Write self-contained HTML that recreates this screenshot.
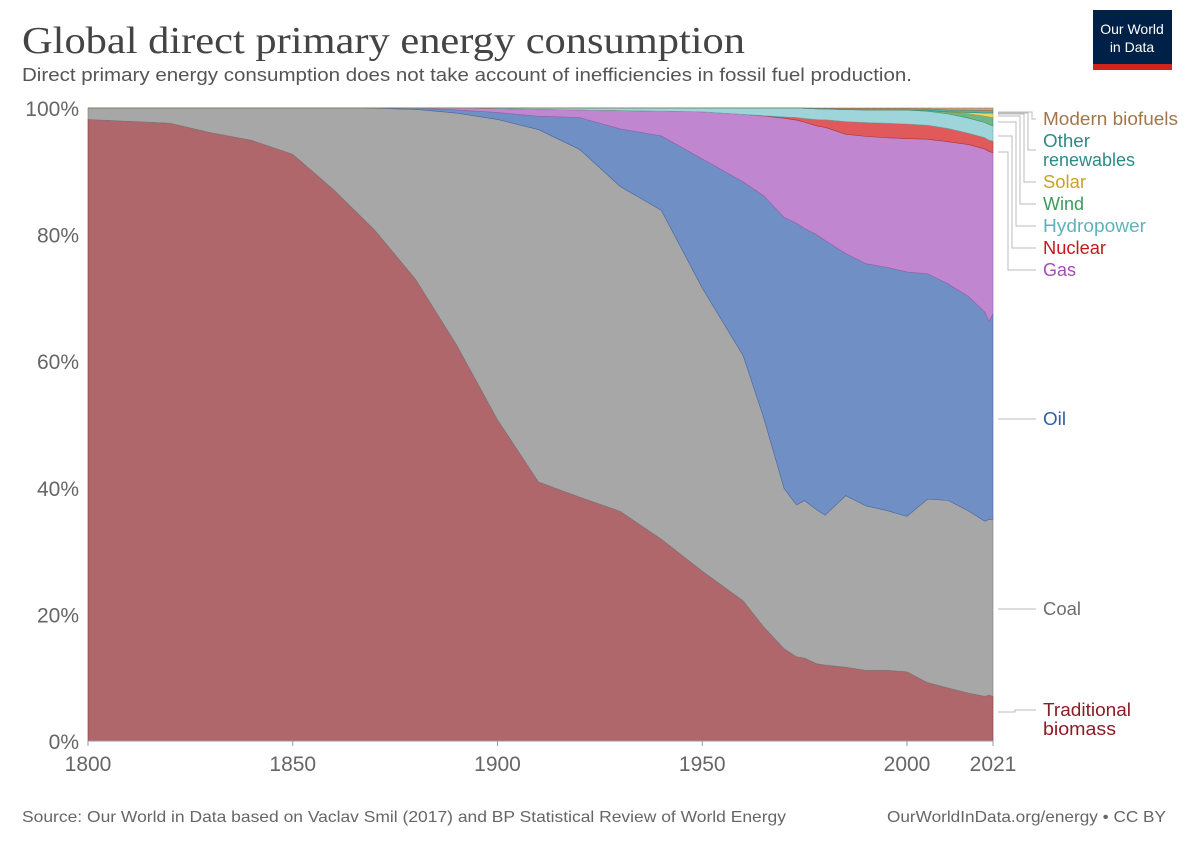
<!DOCTYPE html>
<html><head><meta charset="utf-8">
<style>
body{margin:0;background:#fff;width:1200px;height:847px;overflow:hidden;font-family:"Liberation Sans",sans-serif;}
</style></head>
<body>
<svg id="chart" width="1200" height="847" xmlns="http://www.w3.org/2000/svg">
<text x="22" y="53" font-family="'Liberation Serif',serif" font-size="38" fill="#444" textLength="723" lengthAdjust="spacingAndGlyphs">Global direct primary energy consumption</text>
<text x="22" y="81" font-size="18" fill="#555" textLength="890" lengthAdjust="spacingAndGlyphs">Direct primary energy consumption does not take account of inefficiencies in fossil fuel production.</text>
<g>
<rect x="1093" y="10" width="79" height="60" fill="#002147"/>
<rect x="1093" y="64" width="79" height="6" fill="#ce261e"/>
<text x="1132" y="34" text-anchor="middle" font-size="14" fill="#fff">Our World</text>
<text x="1132" y="52" text-anchor="middle" font-size="14" fill="#fff">in Data</text>
</g>
<g id="grid"></g>
<g id="areas"></g>
<g id="axes"></g>
<g id="labels"></g>
<text x="22" y="822" font-size="16" fill="#666" textLength="764" lengthAdjust="spacingAndGlyphs">Source: Our World in Data based on Vaclav Smil (2017) and BP Statistical Review of World Energy</text>
<text x="887" y="822" font-size="16" fill="#666" textLength="279" lengthAdjust="spacingAndGlyphs">OurWorldInData.org/energy • CC BY</text>
</svg>
<script>
const years=[1800,1820,1830,1840,1850,1860,1870,1880,1890,1900,1910,1920,1930,1940,1950,1960,1965,1970,1973,1975,1978,1980,1985,1990,1995,2000,2005,2010,2015,2019,2020,2021];
const biomass=[98.1,97.5,96,94.8,92.6,87,80.6,72.8,62.6,50.7,40.9,38.5,36.2,31.8,26.7,22,17.9,14.5,13.3,13.1,12.2,12,11.7,11.2,11.2,10.9,9.2,8.4,7.6,7.1,7.3,7.0];
const coal=[1.8,2.4,3.9,5.1,7.3,12.9,19.2,26.8,36.6,47.4,55.6,54.9,51.2,51.8,44.5,38.5,32.8,25.2,24,24.9,24.3,23.7,27.2,26.1,25.3,24.5,28.9,29.7,28.9,27.8,27.9,27.8];
const oil=[0,0,0,0,0,0,0.05,0.2,0.5,1.1,2.1,5.0,9.1,11.7,20.3,27.3,34.8,42.6,44.5,43,43.5,43.4,38.4,38.4,38.5,38.5,35.5,34.3,34,33.2,31.5,32.2];
const gas=[0,0,0,0,0,0,0,0,0.3,0.6,1.1,1.2,2.9,3.9,7.4,10.6,12.5,15.6,16.3,16.8,17.2,17.9,18.9,20.2,20.5,21,21.2,22.5,24.1,25.9,27,25.3];
const nuclear=[0,0,0,0,0,0,0,0,0,0,0,0,0,0,0,0,0.05,0.2,0.4,0.6,1.0,1.2,2.0,2.2,2.3,2.3,2.2,2.1,1.8,1.8,1.8,1.8];
const hydro=[0,0,0,0,0,0,0,0,0,0.1,0.2,0.3,0.4,0.5,0.6,1.0,1.2,1.4,1.5,1.6,1.7,1.7,1.9,2.0,2.1,2.2,2.2,2.3,2.4,2.4,2.5,2.4];
const wind=[0,0,0,0,0,0,0,0,0,0,0,0,0,0,0,0,0,0,0,0,0,0,0,0,0.01,0.02,0.1,0.3,0.7,1.0,1.2,1.3];
const solar=[0,0,0,0,0,0,0,0,0,0,0,0,0,0,0,0,0,0,0,0,0,0,0,0,0,0,0.01,0.03,0.2,0.5,0.6,0.7];
const otherRen=[0,0,0,0,0,0,0,0,0,0,0,0,0,0,0,0,0,0,0,0.05,0.08,0.1,0.15,0.2,0.2,0.2,0.25,0.3,0.35,0.4,0.4,0.4];
const biofuels=[0,0,0,0,0,0,0,0,0,0,0,0,0,0,0,0,0,0,0,0,0.05,0.05,0.1,0.1,0.1,0.1,0.15,0.3,0.35,0.4,0.4,0.4];
const yTicks=[0,20,40,60,80,100];
const xTicks=[1800,1850,1900,1950,2000,2021];
const seriesNames=["Traditional biomass","Coal","Oil","Gas","Nuclear","Hydropower","Wind","Solar","Other renewables","Modern biofuels"];

const NS="http://www.w3.org/2000/svg";
const X0=88,X1=993,Y0=741,Y1=108;
const xS=y=>X0+(y-1800)/(2021-1800)*(X1-X0);
const yS=v=>Y0-v/100*(Y0-Y1);
function mk(t,a,p){const e=document.createElementNS(NS,t);for(const k in a)e.setAttribute(k,a[k]);p.appendChild(e);return e;}
const grid=document.getElementById('grid'),axes=document.getElementById('axes'),areas=document.getElementById('areas'),labels=document.getElementById('labels');
yTicks.forEach(t=>{
 const l=mk('line',{x1:X0,x2:X1,y1:yS(t),y2:yS(t),stroke:'#ddd','stroke-dasharray':'4,3'},grid);
 
 
 const tx=mk('text',{x:79,y:yS(t)+8,'text-anchor':'end','font-size':21,fill:'#666'},axes);
 tx.textContent=t+'%';
 
 
});
xTicks.forEach(t=>{
 const tx=mk('text',{x:xS(t),y:771,'text-anchor':'middle','font-size':21,fill:'#666'},axes);
 tx.textContent=t;
 
 
 mk('line',{x1:xS(t),x2:xS(t),y1:Y0,y2:Y0+5,stroke:'#999'},axes);
});
const series=[biomass,coal,oil,gas,nuclear,hydro,wind,solar,otherRen,biofuels];
const fills=['#b0676c','#a7a7a7','#6f8fc5','#c186d0','#e0595b','#9dd5da','#6fb687','#f0d55e','#52b3ad','#c8a27a'];
const strokes=['#7a3a40','#7c7c7c','#4a68a0','#9a60aa','#b03538','#70a9ae','#4a9060','#c0a030','#2f8a84','#9c7650'];
const totals=years.map((_,i)=>series.reduce((s,a)=>s+a[i],0));
let base=years.map(()=>0);
series.forEach((arr,si)=>{
 const top=years.map((_,i)=>base[i]+arr[i]/totals[i]*100);
 let d='M'+years.map((y,i)=>xS(y)+','+yS(top[i])).join('L');
 for(let i=years.length-1;i>=0;i--)d+='L'+xS(years[i])+','+yS(base[i]);
 d+='Z';
 const p=mk('path',{d:d,fill:fills[si],stroke:strokes[si],'stroke-width':0.6},areas);
 
 
 base=top;
});
mk('line',{x1:X0,x2:X1,y1:Y0,y2:Y0,stroke:'#999'},axes);
const legendLabels=[["Modern biofuels",119,'#a2754a',112,135],["Other",141,'#2c8b86',113,47],["renewables",160,'#2c8b86',null,92],["Solar",182,'#c9a227',114,43],["Wind",204,'#3d9a5a',116,41],["Hydropower",226,'#5fb2bb',122,103],["Nuclear",248,'#c6171b',136,63],["Gas",270,'#a24eb5',152,33],["Oil",419,'#2d5fa8',419,23],["Coal",609,'#6e6e6e',609,38],["Traditional",710,'#8c1b24',712,88],["biomass",729,'#8c1b24',null,73]];
let off=0;
legendLabels.forEach((L,i)=>{
 const tx=mk('text',{x:1043,y:L[1]+6,'font-size':18,fill:L[2],textLength:L[4],lengthAdjust:'spacingAndGlyphs'},labels);
 tx.textContent=L[0];
 
 
 if(L[3]!==null){
  const ly=(L[0]==="Other")?150:L[1];
  const vx=(L[1]<300)?1032-off*4:1015;
  if(L[1]<300)off++;
  mk('polyline',{points:`998,${L[3]} ${vx},${L[3]} ${vx},${ly} 1036,${ly}`,fill:'none',stroke:'#bbb','stroke-width':1},labels);
 }
});
</script>
</body></html>
